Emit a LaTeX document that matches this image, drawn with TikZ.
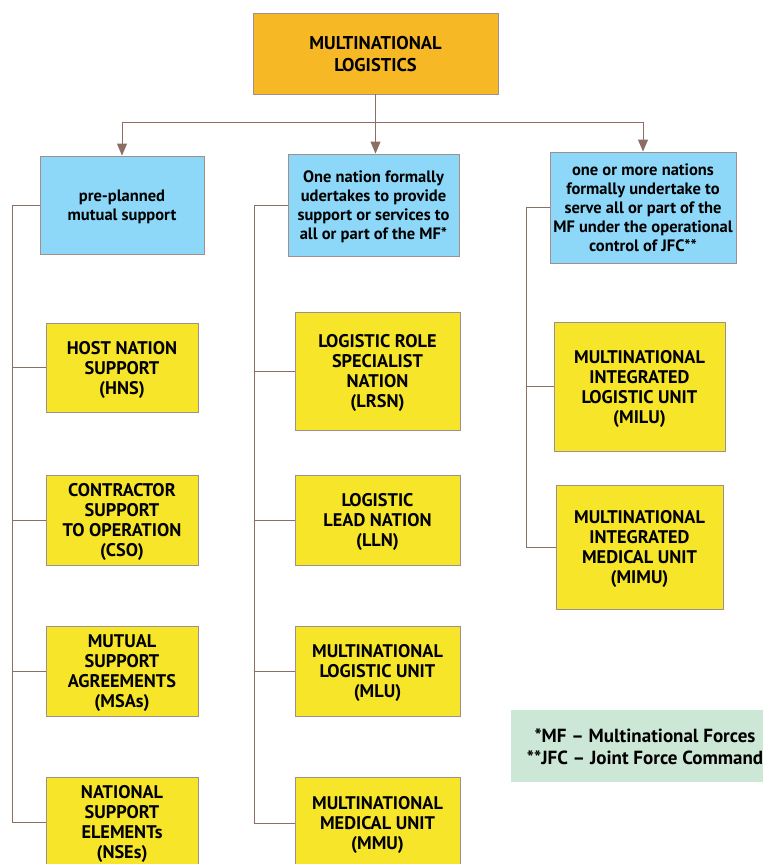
\documentclass[tikz,border=0pt]{standalone}
\usepackage{fontspec}
\setmainfont{PT Sans}
\usetikzlibrary{arrows.meta}

\definecolor{boxorange}{HTML}{F7B825}
\definecolor{boxblue}{HTML}{8DD8F8}
\definecolor{boxyellow}{HTML}{F6E528}
\definecolor{boxgreen}{HTML}{CDE7D6}
\definecolor{edgegray}{HTML}{A0908A}
\definecolor{linkbrown}{HTML}{8C6E63}

\tikzset{
  box/.style={draw=edgegray, line width=0.9pt, inner sep=0pt, align=center,
    font=\bfseries, text depth=-3pt},
  topbox/.style={box, fill=boxorange, font=\fontsize{18.5}{22}\selectfont\bfseries},
  bluebox/.style={box, fill=boxblue, font=\fontsize{16.5}{19}\selectfont\bfseries},
  yellowbox/.style={box, fill=boxyellow, text depth=-9pt,
    font=\fontsize{18.3}{20}\selectfont\bfseries},
  link/.style={draw=linkbrown, line width=0.9pt},
  arr/.style={link, -{Triangle[width=10pt,length=12pt]}, fill=linkbrown}
}

\begin{document}
\begin{tikzpicture}[x=1pt,y=-1pt]
	\useasboundingbox (0,0) rectangle (763,864);
	% top
	\node [topbox, minimum width=245pt, minimum height=81pt] (ml) at (375.5,53.5)
	  {MULTINATIONAL\\LOGISTICS};
	% three approaches
	\node [bluebox, minimum width=164pt, minimum height=98pt] (prep) at (122,205)
	  {pre-planned\\mutual support};
	\node [bluebox, minimum width=171pt, minimum height=102pt] (onen) at (373.5,205)
	  {One nation formally\\udertakes to provide\\support or services to\\all or part of the MF*};
	\node [bluebox, minimum width=186pt, minimum height=111pt] (more) at (643,207.5)
	  {one or more nations\\formally undertake to\\serve all or part of the\\MF under the operational\\control of JFC**};
	% left column
	\node [yellowbox, minimum width=152pt, minimum height=89pt] (hns) at (122,367.5)
	  {HOST NATION\\SUPPORT\\(HNS)};
	\node [yellowbox, minimum width=152pt, minimum height=90pt] (cso) at (122,520)
	  {CONTRACTOR\\SUPPORT\\TO OPERATION\\(CSO)};
	\node [yellowbox, minimum width=152pt, minimum height=90pt] (msa) at (122,671)
	  {MUTUAL\\SUPPORT\\AGREEMENTS\\(MSAs)};
	\node [yellowbox, minimum width=152pt, minimum height=90pt] (nse) at (122,822)
	  {NATIONAL\\SUPPORT\\ELEMENTs\\(NSEs)};
	% middle column
	\node [yellowbox, minimum width=165pt, minimum height=118pt] (lrsn) at (377.5,371)
	  {LOGISTIC ROLE\\SPECIALIST\\NATION\\(LRSN)};
	\node [yellowbox, minimum width=165pt, minimum height=90pt] (lln) at (377.5,520)
	  {LOGISTIC\\LEAD NATION\\(LLN)};
	\node [yellowbox, minimum width=165pt, minimum height=90pt] (mlu) at (377.5,671)
	  {MULTINATIONAL\\LOGISTIC UNIT\\(MLU)};
	\node [yellowbox, minimum width=165pt, minimum height=92pt] (mmu) at (377.5,823)
	  {MULTINATIONAL\\MEDICAL UNIT\\(MMU)};
	% right column
	\node [yellowbox, minimum width=171pt, minimum height=129pt] (milu) at (639.5,386.5)
	  {MULTINATIONAL\\INTEGRATED\\LOGISTIC UNIT\\(MILU)};
	\node [yellowbox, minimum width=167pt, minimum height=124pt] (mimu) at (639.5,547)
	  {MULTINATIONAL\\INTEGRATED\\MEDICAL UNIT\\(MIMU)};
	% legend
	\node [fill=boxgreen, inner sep=0pt, minimum width=252pt, minimum height=72pt] (key) at (637,746) {};
	\node [align=center, inner sep=0pt, font=\fontsize{19}{22}\selectfont\bfseries] (keytext) at (645,747)
	  {*MF -- Multinational Forces\\**JFC -- Joint Force Command};
	% fork from the top box
	\coordinate (fork) at (375,122);
	\draw [link] (prep.north |- fork) -- (more.north |- fork);
	\draw [arr] (ml.south) -- (ml.south |- onen.north);
	\draw [arr] (prep.north |- fork) -- (prep.north);
	\draw [arr] (more.north |- fork) -- (more.north);
	% spines
	\coordinate (lspine) at (12,0);
	\coordinate (mspine) at (254,0);
	\coordinate (rspine) at (526,0);
	\draw [link] (prep.west) -- (prep.west -| lspine) -- (nse.west -| lspine) -- (nse.west);
	\foreach \n in {hns,cso,msa}
	  \draw [link] (\n.west) -- (\n.west -| lspine);
	\draw [link] (onen.west) -- (onen.west -| mspine) -- (mmu.west -| mspine) -- (mmu.west);
	\foreach \n in {lrsn,lln,mlu}
	  \draw [link] (\n.west) -- (\n.west -| mspine);
	\draw [link] (more.west) -- (more.west -| rspine) -- (mimu.west -| rspine) -- (mimu.west);
	\draw [link] (milu.west) -- (milu.west -| rspine);
\end{tikzpicture}
\end{document}
